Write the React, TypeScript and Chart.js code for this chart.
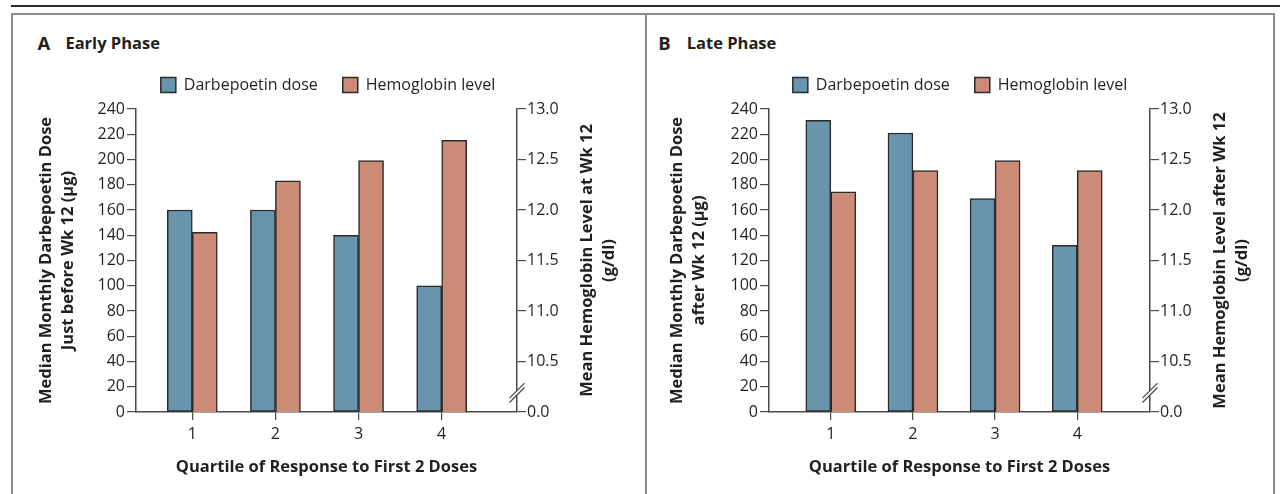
import React, { useEffect, useRef } from 'react';
import { Chart, registerables } from 'chart.js';

Chart.register(...registerables);

// ---------- data ----------
const quartiles = [1, 2, 3, 4];
const quartileLabels = ['1', '2', '3', '4'];
const seriesNames = ['Darbepoetin dose', 'Hemoglobin level'];

const earlyDose = [160, 160, 140, 100];
const earlyHgb = [11.78, 12.29, 12.49, 12.69];
const lateDose = [231, 221, 169, 132];
const lateHgb = [12.18, 12.39, 12.49, 12.39];

const doseTicks = [0, 20, 40, 60, 80, 100, 120, 140, 160, 180, 200, 220, 240];
const hgbTickValues = [10, 10.5, 11, 11.5, 12, 12.5, 13];
const hgbTickLabels = ['0.0', '10.5', '11.0', '11.5', '12.0', '12.5', '13.0'];

const xTitle = 'Quartile of Response to First 2 Doses';
const earlyLeftTitle = ['Median Monthly Darbepoetin Dose', 'Just before Wk 12 (\u03BCg)'];
const earlyRightTitle = ['Mean Hemoglobin Level at Wk 12', '(g/dl)'];
const lateLeftTitle = ['Median Monthly Darbepoetin Dose', 'after Wk 12 (\u03BCg)'];
const lateRightTitle = ['Mean Hemoglobin Level after Wk 12', '(g/dl)'];

// ---------- styles ----------
const FONT = "'Open Sans', sans-serif";
const TEXT = '#231f20';
const AXIS = '#4a4a4a';
const BLUE = '#6895ab';
const BROWN = '#cb8b76';
const EDGE = '#2a2a2a';

const sidePlugin = {
  id: 'sideDecor',
  afterDraw(chart: any, _args: any, opts: any) {
    const { ctx, chartArea } = chart;
    const y2 = chart.scales.y2;
    ctx.save();
    // right-hand axis title (reads bottom to top)
    ctx.font = `bold 16.5px ${FONT}`;
    ctx.fillStyle = TEXT;
    ctx.textAlign = 'center';
    ctx.textBaseline = 'middle';
    const cy = (chartArea.top + chartArea.bottom) / 2;
    (opts.lines || []).forEach((line: string, i: number) => {
      ctx.save();
      ctx.translate(chartArea.right + opts.offset + i * opts.gap, cy);
      ctx.rotate(-Math.PI / 2);
      ctx.fillText(line, 0, 0);
      ctx.restore();
    });
    // axis break mark
    const bx = chartArea.right;
    const by = y2.getPixelForValue(10.19);
    ctx.fillStyle = '#ffffff';
    ctx.beginPath();
    ctx.moveTo(bx - 7, by + 5);
    ctx.lineTo(bx + 7, by - 9);
    ctx.lineTo(bx + 7, by - 5);
    ctx.lineTo(bx - 7, by + 9);
    ctx.closePath();
    ctx.fill();
    ctx.strokeStyle = AXIS;
    ctx.lineWidth = 1.3;
    [-2.2, 2.2].forEach((d) => {
      ctx.beginPath();
      ctx.moveTo(bx - 7.5, by + d + 7.5);
      ctx.lineTo(bx + 7.5, by + d - 7.5);
      ctx.stroke();
    });
    ctx.restore();
  },
};

type PanelCfg = {
  dose: number[];
  hgb: number[];
  leftTitle: string[];
  rightTitle: string[];
  left: number;
  width: number;
  xMin: number;
  xMax: number;
  leftTitlePad: number;
};

const CANVAS_TOP = 52;
const CANVAS_H = 442;
const LEFT_W = 122;
const PLOT_W = 381;

function Panel({ cfg }: { cfg: PanelCfg }) {
  const ref = useRef<HTMLCanvasElement | null>(null);
  useEffect(() => {
    if (!ref.current) return;
    const tickFont = { family: FONT, size: 16 };
    const boldFont = { family: FONT, size: 16.5, weight: 'bold' as const };
    const gridCommon = {
      display: true,
      drawOnChartArea: false,
      drawTicks: true,
      offset: false,
      color: AXIS,
      lineWidth: 1.2,
    };
    const border = { display: true, color: AXIS, width: 1.5 };
    const chart = new Chart(ref.current, {
      type: 'bar',
      data: {
        datasets: [
          {
            label: seriesNames[0],
            data: quartiles.map((q, i) => ({ x: q, y: cfg.dose[i] })),
            xAxisID: 'x',
            yAxisID: 'y',
            backgroundColor: BLUE,
            borderColor: EDGE,
            borderWidth: 1.5,
            borderSkipped: false,
            barThickness: 25,
          },
          {
            label: seriesNames[1],
            data: quartiles.map((q, i) => ({ x: q, y: cfg.hgb[i] })),
            xAxisID: 'x',
            yAxisID: 'y2',
            backgroundColor: BROWN,
            borderColor: EDGE,
            borderWidth: 1.5,
            borderSkipped: false,
            barThickness: 25,
          },
        ],
      } as any,
      options: {
        responsive: false,
        animation: false,
        devicePixelRatio: 1,
        layout: { padding: 0 },
        plugins: {
          legend: {
            display: true,
            position: 'top',
            fullSize: true,
            labels: {
              boxWidth: 15,
              boxHeight: 15,
              padding: 25,
              color: TEXT,
              font: tickFont,
            },
          },
          tooltip: { enabled: false },
          title: { display: false },
          sideDecor: { lines: cfg.rightTitle, offset: 70, gap: 22 },
        } as any,
        scales: {
          x: {
            type: 'linear',
            position: 'bottom',
            min: cfg.xMin,
            max: cfg.xMax,
            offset: false,
            afterBuildTicks: (s: any) => {
              s.ticks = quartiles.map((v) => ({ value: v }));
            },
            ticks: {
              autoSkip: false,
              maxRotation: 0,
              padding: 5,
              color: TEXT,
              font: tickFont,
              callback: (_v: any, i: number) => quartileLabels[i],
            },
            grid: { ...gridCommon, tickLength: 8 },
            border,
            title: {
              display: true,
              text: xTitle,
              color: TEXT,
              font: { ...boldFont, lineHeight: 1.18 },
              padding: { top: 0, bottom: 17 },
            },
            afterFit: (s: any) => {
              s.height = 82;
            },
          },
          spacer: {
            type: 'linear',
            position: 'top',
            display: true,
            ticks: { display: false },
            grid: { display: false },
            border: { display: false },
            afterFit: (s: any) => {
              s.height = 6;
            },
          },
          y: {
            type: 'linear',
            position: 'left',
            min: 0,
            max: 240,
            afterBuildTicks: (s: any) => {
              s.ticks = doseTicks.map((v) => ({ value: v }));
            },
            ticks: {
              autoSkip: false,
              padding: 2,
              color: TEXT,
              font: tickFont,
              callback: (_v: any, i: number) => String(doseTicks[i]),
            },
            grid: { ...gridCommon, tickLength: 9 },
            border,
            title: {
              display: true,
              text: cfg.leftTitle,
              color: TEXT,
              font: { ...boldFont, lineHeight: 22 / 16.5 },
              padding: { top: cfg.leftTitlePad, bottom: 0 },
            },
            afterFit: (s: any) => {
              s.width = LEFT_W;
            },
          },
          y2: {
            type: 'linear',
            position: 'right',
            min: 10,
            max: 13,
            afterBuildTicks: (s: any) => {
              s.ticks = hgbTickValues.map((v) => ({ value: v }));
            },
            ticks: {
              autoSkip: false,
              padding: 1,
              color: TEXT,
              font: tickFont,
              callback: (_v: any, i: number) => hgbTickLabels[i],
            },
            grid: { ...gridCommon, tickLength: 9 },
            border,
            afterFit: (s: any) => {
              s.width = cfg.width - LEFT_W - PLOT_W;
            },
          },
        } as any,
      },
      plugins: [sidePlugin],
    });
    return () => chart.destroy();
  }, [cfg]);
  return (
    <canvas
      ref={ref}
      width={cfg.width}
      height={CANVAS_H}
      style={{ position: 'absolute', left: cfg.left, top: CANVAS_TOP, width: cfg.width, height: CANVAS_H }}
    />
  );
}

const earlyCfg: PanelCfg = {
  dose: earlyDose,
  hgb: earlyHgb,
  leftTitle: earlyLeftTitle,
  rightTitle: earlyRightTitle,
  left: 14,
  width: 628,
  xMin: 0.323,
  xMax: 4.906,
  leftTitlePad: 21.5,
};

const lateCfg: PanelCfg = {
  dose: lateDose,
  hgb: lateHgb,
  leftTitle: lateLeftTitle,
  rightTitle: lateRightTitle,
  left: 647,
  width: 626,
  xMin: 0.2475,
  xMax: 4.886,
  leftTitlePad: 19.5,
};

const line = (l: number, t: number, w: number, h: number, c: string) => (
  <div style={{ position: 'absolute', left: l, top: t, width: w, height: h, background: c }} />
);

export default function App() {
  const letterStyle: React.CSSProperties = {
    position: 'absolute',
    fontFamily: FONT,
    fontWeight: 700,
    color: TEXT,
    whiteSpace: 'nowrap',
    margin: 0,
  };
  return (
    <div
      style={{
        position: 'absolute',
        left: 0,
        top: 0,
        width: 1280,
        height: 494,
        background: '#ffffff',
        overflow: 'hidden',
      }}
    >
      {line(11, 5, 1269, 2, '#2a2a2a')}
      {line(11, 13, 1264, 2, '#8c8c8c')}
      {line(11, 13, 2, 481, '#8c8c8c')}
      {line(645, 13, 2, 481, '#8c8c8c')}
      {line(1273, 13, 2, 481, '#8c8c8c')}

      <div style={{ ...letterStyle, left: 37.5, top: 33.6, fontSize: 18.5, lineHeight: '18.5px' }}>A</div>
      <div style={{ ...letterStyle, left: 65.4, top: 35.3, fontSize: 16.5, lineHeight: '16.5px' }}>Early Phase</div>
      <div style={{ ...letterStyle, left: 658.3, top: 33.6, fontSize: 18.5, lineHeight: '18.5px' }}>B</div>
      <div style={{ ...letterStyle, left: 686.7, top: 35.3, fontSize: 16.5, lineHeight: '16.5px' }}>Late Phase</div>

      <Panel cfg={earlyCfg} />
      <Panel cfg={lateCfg} />
    </div>
  );
}
